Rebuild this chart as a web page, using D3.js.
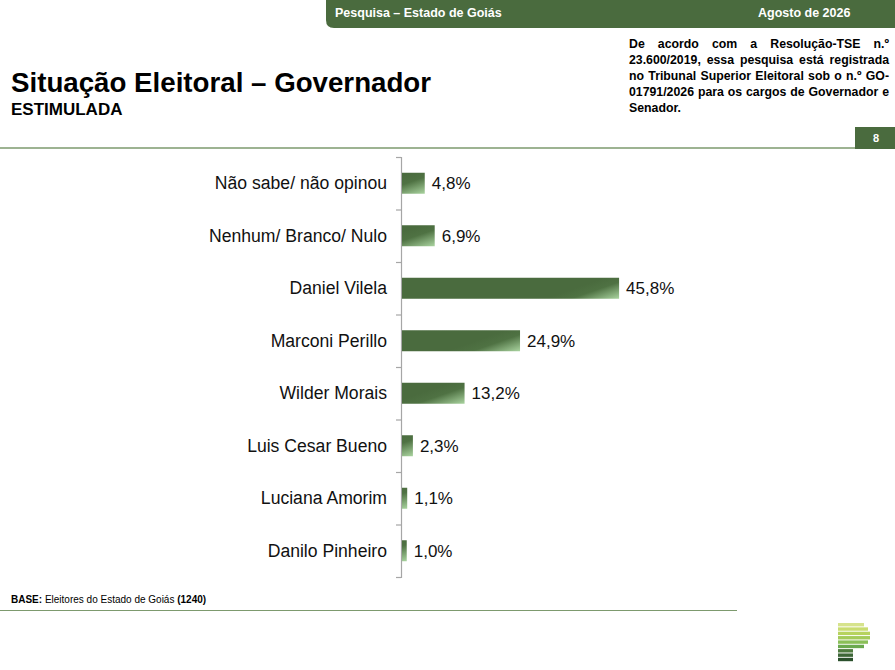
<!DOCTYPE html>
<html>
<head>
<meta charset="utf-8">
<script src="https://cdn.jsdelivr.net/npm/d3@7.9.0/dist/d3.min.js"></script>
<style>
  body { margin: 0; background: #fff; font-family: "Liberation Sans", Arial, sans-serif; }
  #wrap { position: relative; width: 895px; height: 670px; overflow: hidden; }
  #note {
    position: absolute; left: 629px; top: 37px; width: 260px;
    font-size: 12.3px; font-weight: bold; line-height: 15.9px;
    text-align: justify; color: #000;
  }
</style>
</head>
<body>
<div id="wrap">
  <svg id="chart" width="895" height="670"></svg>
  <div id="note">De acordo com a Resolução-TSE n.º 23.600/2019, essa pesquisa está registrada no Tribunal Superior Eleitoral sob o n.º GO-01791/2026 para os cargos de Governador e Senador.</div>
</div>
<script>
// Chart data
const candidates = ["Não sabe/ não opinou", "Nenhum/ Branco/ Nulo", "Daniel Vilela", "Marconi Perillo",
  "Wilder Morais", "Luis Cesar Bueno", "Luciana Amorim", "Danilo Pinheiro"];
const percents = [4.8, 6.9, 45.8, 24.9, 13.2, 2.3, 1.1, 1.0];

const green = "#4a6b3e";
const svg = d3.select("#chart");

// Top banner with rounded bottom-left corner
svg.append("path")
  .attr("d", "M326,0 H895 V28 H334 Q326,28 326,20 Z")
  .attr("fill", green);
svg.append("text").attr("x", 335).attr("y", 17)
  .attr("font-size", 12.5).attr("font-weight", "bold").attr("fill", "#fff")
  .text("Pesquisa – Estado de Goiás");
svg.append("text").attr("x", 758).attr("y", 17)
  .attr("font-size", 12.5).attr("font-weight", "bold").attr("fill", "#fff")
  .text("Agosto de 2026");

// Title
svg.append("text").attr("x", 11).attr("y", 92)
  .attr("font-size", 27.7).attr("font-weight", "bold").attr("fill", "#000")
  .text("Situação Eleitoral – Governador");
svg.append("text").attr("x", 11).attr("y", 115)
  .attr("font-size", 17).attr("font-weight", "bold").attr("fill", "#000")
  .text("ESTIMULADA");

// Header rule + page number
svg.append("line").attr("x1", 0).attr("x2", 855).attr("y1", 148).attr("y2", 148)
  .attr("stroke", "#7d9a6e").attr("stroke-width", 1.5);
svg.append("rect").attr("x", 855).attr("y", 127).attr("width", 40).attr("height", 22).attr("fill", green);
svg.append("text").attr("x", 876).attr("y", 142).attr("text-anchor", "middle")
  .attr("font-size", 11).attr("font-weight", "bold").attr("fill", "#fff").text("8");

// Scales
const y = d3.scaleBand().domain(candidates).range([157, 577]).paddingInner(0.6).paddingOuter(0.3);
const x = d3.scaleLinear().domain([0, 50]).range([402, 639]);

// Axis line with ticks between categories
const axisScale = d3.scaleLinear().domain([0, candidates.length]).range([157, 577]);
const yAxis = d3.axisLeft(axisScale).ticks(candidates.length).tickSize(5).tickFormat("");
svg.append("g").attr("transform", "translate(401,0)")
  .call(yAxis)
  .call(g => g.selectAll("path,line").attr("stroke", "#a6a6a6").attr("stroke-width", 1.2));

// Category labels
svg.append("g").selectAll("text").data(candidates).join("text")
  .attr("x", 387).attr("y", d => y(d) + y.bandwidth() / 2)
  .attr("dy", "0.35em").attr("text-anchor", "end")
  .attr("font-size", 17.6).attr("fill", "#111").text(d => d);

// Bars, each with a light streak toward its bottom-right corner
const rows = candidates.map((c, i) => ({ c, v: percents[i], id: "g" + i }));
const defs = svg.append("defs");
rows.forEach(d => {
  const ex = x(d.v), by = y(d.c) + y.bandwidth();
  const g = defs.append("linearGradient").attr("id", d.id)
    .attr("gradientUnits", "userSpaceOnUse")
    .attr("x1", ex - 8).attr("y1", by - 23).attr("x2", ex).attr("y2", by);
  g.append("stop").attr("offset", 0).attr("stop-color", green);
  g.append("stop").attr("offset", 0.35).attr("stop-color", "#4f7243");
  g.append("stop").attr("offset", 1).attr("stop-color", "#aad4a0");
});
svg.append("g").selectAll("rect").data(rows).join("rect")
  .attr("x", x(0)).attr("y", d => y(d.c))
  .attr("width", d => x(d.v) - x(0)).attr("height", y.bandwidth())
  .attr("fill", d => `url(#${d.id})`);

// Value labels
svg.append("g").selectAll("text").data(rows).join("text")
  .attr("x", d => x(d.v) + 7).attr("y", d => y(d.c) + y.bandwidth() / 2)
  .attr("dy", "0.35em").attr("font-size", 17).attr("fill", "#111")
  .text(d => d.v.toFixed(1).replace(".", ",") + "%");

// Footer
const base = svg.append("text").attr("x", 11).attr("y", 603).attr("font-size", 10).attr("fill", "#000");
base.append("tspan").attr("font-weight", "bold").text("BASE:");
base.append("tspan").text(" Eleitores do Estado de Goiás ");
base.append("tspan").attr("font-weight", "bold").text("(1240)");
svg.append("line").attr("x1", 0).attr("x2", 737).attr("y1", 610.5).attr("y2", 610.5)
  .attr("stroke", "#7d9a6e").attr("stroke-width", 1.2);

// Logo (stacked stripes)
const logoColors = ["#d6e38c", "#c9dc70", "#b7d35e", "#a4cb5a", "#8abf58", "#6aa94e", "#4e7b3f", "#3d6637", "#2b502c"];
const logoEnds = [864, 868, 870, 870, 868, 864, 853, 853, 853];
svg.append("g").selectAll("rect").data(logoColors).join("rect")
  .attr("x", 838).attr("y", (d, i) => 623 + i * 4.35)
  .attr("width", (d, i) => logoEnds[i] - 838).attr("height", 3.4)
  .attr("fill", d => d);
</script>
</body>
</html>
